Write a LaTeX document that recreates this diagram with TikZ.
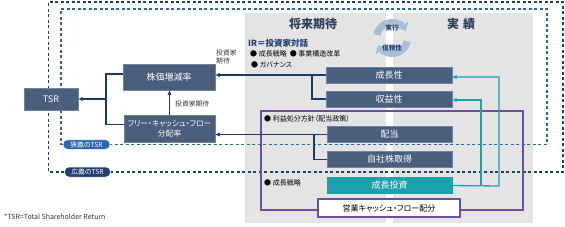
\documentclass[tikz,border=0pt]{standalone}
\usepackage{fontspec}
\setmainfont{Noto Sans CJK JP}[RawFeature=+palt]
\usetikzlibrary{arrows.meta}
\definecolor{boxblue}{HTML}{4A5E7E}
\definecolor{boxline}{HTML}{7283A0}
\definecolor{tealc}{HTML}{1AA3AD}
\definecolor{purp}{HTML}{6B4EA0}
\definecolor{navy}{HTML}{1C3A6C}
\definecolor{dashin}{HTML}{2B66B0}
\definecolor{dashout}{HTML}{1F406F}
\definecolor{panel}{HTML}{E4E4E4}
\definecolor{iconc}{HTML}{A9BDD4}
\definecolor{headc}{HTML}{2E3F5C}
\definecolor{irc}{HTML}{1F3F73}
\definecolor{txt}{HTML}{333333}
\begin{document}
\begin{tikzpicture}[x=1pt,y=-1pt,
  bx/.style={draw=boxline, line width=0.4pt, fill=boxblue, text=white, inner sep=0pt,
    font=\fontsize{9}{10}\selectfont},
  conn/.style={draw=navy, line width=1.3pt},
  tconn/.style={draw=tealc, line width=1.3pt},
  arr/.style={-{Latex[length=4.5pt,width=4.5pt]}},
  pill/.style={rounded corners=4.5pt, draw=white, line width=0.5pt, text=white, inner sep=0pt,
    font=\fontsize{6.8}{7}\selectfont},
  indash/.style={draw=dashin, line width=1.3pt, dash pattern=on 3pt off 2.5pt},
  outdash/.style={draw=dashout, line width=1.3pt, dash pattern=on 3pt off 2.5pt},
  small/.style={text=txt, inner sep=0pt, font=\fontsize{7}{8}\selectfont},
  head/.style={text=headc, inner sep=0pt, font=\fontsize{12}{13}\selectfont\bfseries},
]
\useasboundingbox (0,0) rectangle (565,226);
% panels
\fill[panel] (245,13) rectangle (386,223);
\fill[panel] (393,13) rectangle (533,223);

% headers
\node[head] (hfut) at (313,24) {将来期待};
\node[head] (hres) at (461,24) {実\hspace{4pt}績};

% cycle icon
\begin{scope}[shift={(392,38)}, x=1pt, y=1pt]
\draw[iconc, line width=7pt, -{Triangle[width=13pt,length=6.5pt]}]
  (168:15.5) arc[start angle=168, end angle=28, radius=15.5];
\draw[iconc, line width=7pt, -{Triangle[width=13pt,length=6.5pt]}]
  (-12:15.5) arc[start angle=-12, end angle=-152, radius=15.5];
\end{scope}
\node[text=irc, inner sep=0pt, font=\fontsize{6.5}{7}\selectfont\bfseries] (jikko) at (392,28) {実行};
\node[text=irc, inner sep=0pt, font=\fontsize{6.5}{7}\selectfont\bfseries] (shinrai) at (392,48) {信頼性};

% IR text
\node[anchor=west, text=irc, inner sep=0pt, font=\fontsize{8.5}{9}\selectfont\bfseries] (ir) at (248,43) {IR＝投資家対話};
\node[small, anchor=west, text=black] (b1) at (250,53.5) {● 成長戦略 \ ● 事業構造改革};
\node[small, anchor=west, text=black] (b2) at (251,64.5) {● ガバナンス};

% dashed frames
\node[pill, fill=dashin, minimum width=47pt, minimum height=9.5pt] (narrow) at (86.5,144.5) {狭義のTSR};
\node[pill, fill=dashout, minimum width=46pt, minimum height=10pt] (broad) at (87.5,172) {広義のTSR};
\draw[indash] (narrow.west) -- (61,144.5) -- (61,9) -- (547,9) -- (547,144.5) -- (narrow.east);
\draw[outdash] (broad.west) -- (48.5,172) -- (48.5,2) -- (563,2) -- (563,172) -- (broad.east);
\node[pill, fill=dashin, minimum width=47pt, minimum height=9.5pt] at (86.5,144.5) {狭義のTSR};
\node[pill, fill=dashout, minimum width=46pt, minimum height=10pt] at (87.5,172) {広義のTSR};

% purple frame
\draw[purp, line width=1.3pt] (261,111) rectangle (523,210);
\node[small, anchor=west, text=black] (b3) at (264,119) {● 利益処分方針（配当政策）};
\node[small, anchor=west, text=black] (b4) at (264,183) {● 成長戦略};

% boxes
\node[bx, minimum width=54pt, minimum height=22pt] (tsr) at (51,99) {TSR};
\node[bx, minimum width=92pt, minimum height=26pt] (kabuka) at (169,77) {株価増減率};
\node[bx, minimum width=91pt, minimum height=27pt, align=center,
  font=\fontsize{7.8}{9.5}\selectfont] (fcf) at (169.5,128.5) {フリー・キャッシュ・フロー\\分配率};
\node[bx, minimum width=126pt, minimum height=16pt] (seicho) at (389,75) {成長性};
\node[bx, minimum width=126pt, minimum height=16pt] (shueki) at (389,99) {収益性};
\node[bx, minimum width=125pt, minimum height=16pt] (haito) at (389.5,134.5) {配当};
\node[bx, minimum width=125pt, minimum height=16pt] (jisha) at (389.5,159.5) {自社株取得};
\node[bx, fill=tealc, draw=tealc, minimum width=125pt, minimum height=16pt] (toshi) at (389.5,185.5) {成長投資};
\node[draw=purp, line width=1.3pt, fill=white, text=black, inner sep=0pt,
  minimum width=142pt, minimum height=18pt, font=\fontsize{8}{9}\selectfont] (eigyo) at (389,208) {営業キャッシュ・フロー配分};

% navy connectors
\coordinate (br1) at (312,75);
\draw[conn, arr] (seicho.west) -- (seicho.west -| kabuka.east);
\draw[conn] (br1) |- (shueki.west);
\coordinate (br2) at (314,134.5);
\draw[conn, arr] (haito.west) -- (haito.west -| fcf.east);
\draw[conn] (br2) |- (jisha.west);
\coordinate (bx) at (106,99);
\draw[conn] ([yshift=3pt]kabuka.west) -| (bx) |- ([yshift=4pt]fcf.west);
\draw[conn, arr] (bx) -- (tsr.east);
\draw[conn, arr] (fcf.north) -- (fcf.north |- kabuka.south);

% teal connectors
\coordinate (t1) at (499,186);
\coordinate (t2) at (481,186);
\draw[tconn, arr] (toshi.east) -- (t1) |- ([yshift=-2pt]seicho.east);
\draw[tconn, arr] (t2) |- ([yshift=-1pt]shueki.east);

% labels
\node[small, anchor=west, align=left, font=\fontsize{6.8}{8}\selectfont] (lab1) at (216,57) {投資家\\期待};
\node[small, anchor=west, font=\fontsize{6.8}{8}\selectfont] (lab2) at (175,104) {投資家期待};
\node[small, anchor=west, font=\fontsize{7}{8}\selectfont] (foot) at (4,217) {*TSR=Total Shareholder Return};
\end{tikzpicture}
\end{document}
